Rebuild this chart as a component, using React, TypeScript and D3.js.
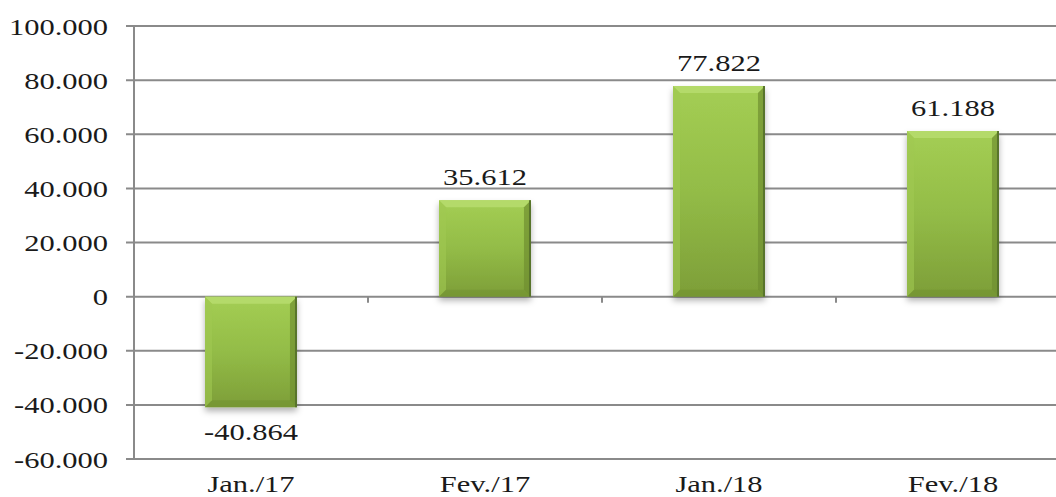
import React from "react";
import * as d3 from "d3";

const categories = ["Jan./17", "Fev./17", "Jan./18", "Fev./18"];
const values = [-40.864, 35.612, 77.822, 61.188];
const valueLabels = ["-40.864", "35.612", "77.822", "61.188"];
const yTicks = [100, 80, 60, 40, 20, 0, -20, -40, -60];
const yTickLabels = ["100.000", "80.000", "60.000", "40.000", "20.000", "0", "-20.000", "-40.000", "-60.000"];

const W = 1056;
const H = 497;
const FONT = "Liberation Serif, Tinos, Times New Roman, DejaVu Serif, serif";
const SX = 1.27;
const GRID = "#8a8a8a";

export default function App() {
  const y = d3.scaleLinear().domain([-60, 100]).range([459, 26]);
  const x = d3
    .scaleBand<string>()
    .domain(categories)
    .range([134, 1070])
    .paddingInner(0.607)
    .paddingOuter(0.3035);
  const step = x.step();
  const bw = x.bandwidth();
  const bev = 7;

  const txt = (
    s: string,
    tx: number,
    ty: number,
    anchor: "start" | "middle" | "end",
    key?: string
  ) => (
    <text
      key={key}
      transform={`translate(${tx},${ty}) scale(${SX},1)`}
      textAnchor={anchor}
      style={{ fontFamily: FONT, fontSize: "24px" }}
      fill="#1a1a1a"
    >
      {s}
    </text>
  );

  return (
    <svg
      width={W}
      height={H}
      style={{ position: "absolute", left: 0, top: 0, background: "#fff" }}
    >
      <defs>
        <linearGradient id="barGrad" x1="0" y1="0" x2="0" y2="1">
          <stop offset="0" stopColor="#a4ce54" />
          <stop offset="0.5" stopColor="#93bc47" />
          <stop offset="1" stopColor="#7d9e38" />
        </linearGradient>
        <filter id="shadow" x="-20%" y="-20%" width="140%" height="140%">
          <feDropShadow dx="0" dy="4" stdDeviation="3" floodColor="#000" floodOpacity="0.3" />
        </filter>
      </defs>

      {yTicks.map((t) => (
        <line
          key={"g" + t}
          x1={126}
          x2={W}
          y1={y(t)}
          y2={y(t)}
          stroke={GRID}
          strokeWidth={2}
        />
      ))}
      <line x1={134} x2={134} y1={y(100)} y2={y(-60)} stroke={GRID} strokeWidth={2} />
      {categories.slice(1).map((c) => {
        const bx = (x(c) as number) - (step - bw) / 2;
        return (
          <line
            key={"ct" + c}
            x1={bx}
            x2={bx}
            y1={y(0)}
            y2={y(0) + 6}
            stroke={GRID}
            strokeWidth={2}
          />
        );
      })}

      {categories.map((c, i) => {
        const v = values[i];
        const x0 = x(c) as number;
        const x1 = x0 + bw;
        const y0 = y(Math.max(v, 0));
        const y1 = y(Math.min(v, 0));
        return (
          <g key={"b" + c}>
            <rect
              x={x0}
              y={y0}
              width={bw}
              height={y1 - y0}
              fill="url(#barGrad)"
              filter="url(#shadow)"
            />
            <polygon
              points={`${x0},${y0} ${x1},${y0} ${x1 - bev},${y0 + bev} ${x0 + bev},${y0 + bev}`}
              fill="#b4da6a"
            />
            <polygon
              points={`${x0},${y0} ${x0 + bev},${y0 + bev} ${x0 + bev},${y1 - bev} ${x0},${y1}`}
              fill="#a0c852"
              opacity={0.6}
            />
            <polygon
              points={`${x1},${y0} ${x1},${y1} ${x1 - bev},${y1 - bev} ${x1 - bev},${y0 + bev}`}
              fill="#6f8f30"
              opacity={0.7}
            />
            <polygon
              points={`${x0},${y1} ${x0 + bev},${y1 - bev} ${x1 - bev},${y1 - bev} ${x1},${y1}`}
              fill="#6f8f30"
              opacity={0.45}
            />
            <rect x={x1 - 2} y={y0} width={2} height={y1 - y0} fill="#58742b" />
            {txt(
              valueLabels[i],
              x0 + bw / 2,
              v >= 0 ? y0 - 15 : y1 + 33,
              "middle"
            )}
          </g>
        );
      })}

      {yTicks.map((t, i) => txt(yTickLabels[i], 108, y(t) + 8.5, "end", "yl" + t))}
      {categories.map((c) => txt(c, (x(c) as number) + bw / 2, 492, "middle", "xl" + c))}
    </svg>
  );
}
